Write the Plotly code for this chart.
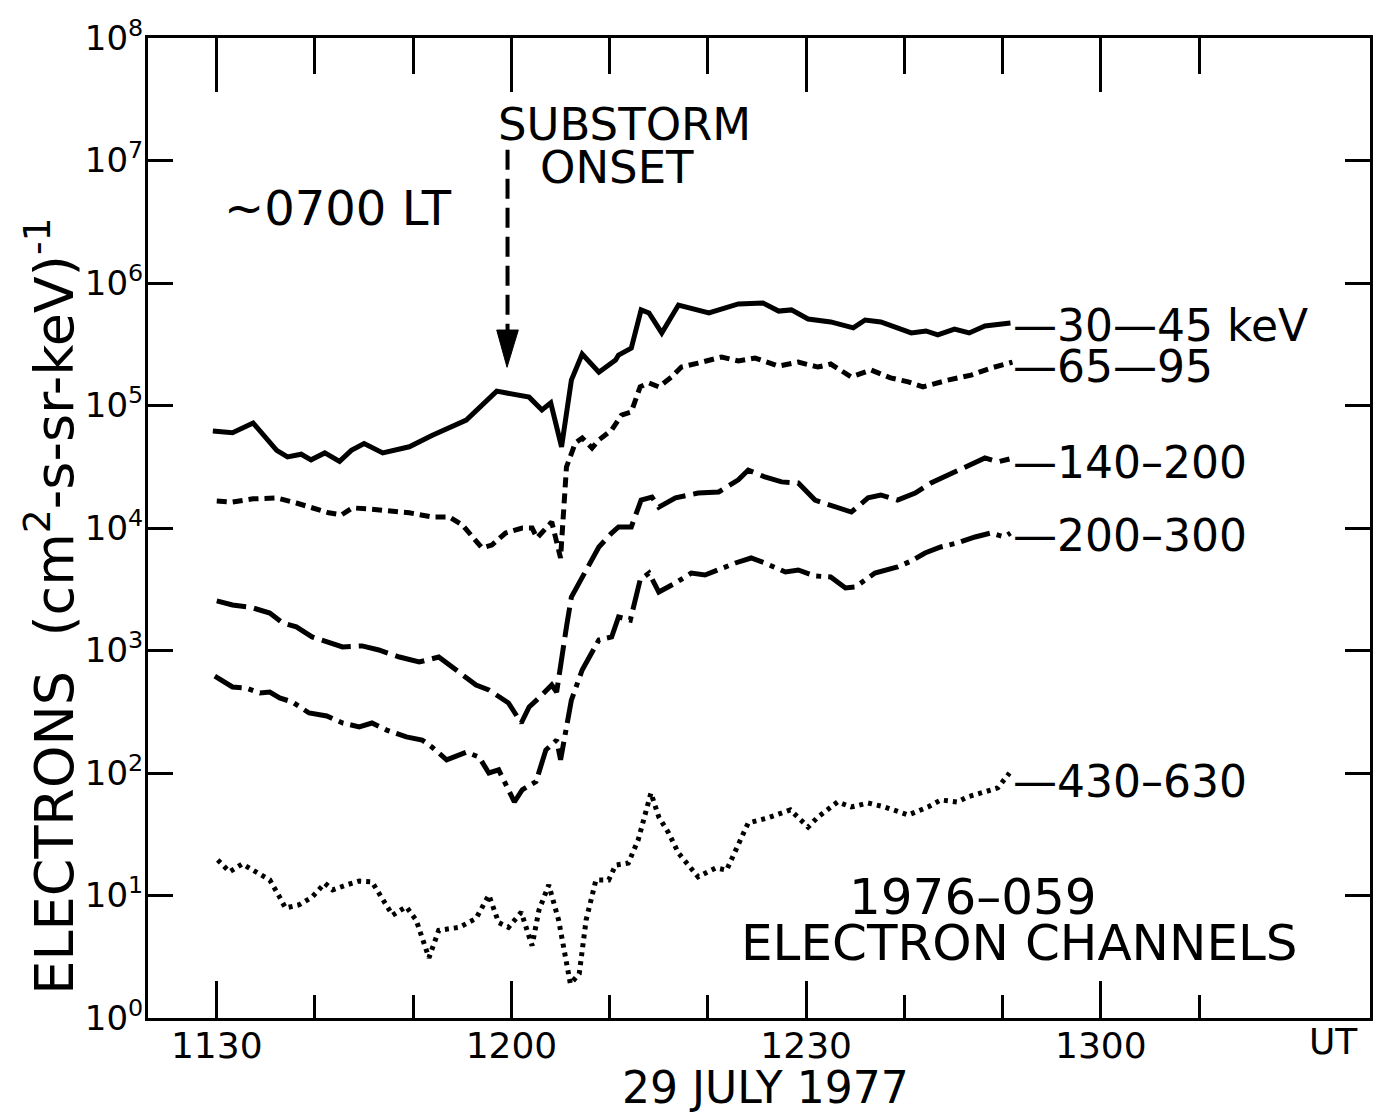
import plotly.graph_objects as go

# ---- data (time in minutes after 1100 UT, flux in electrons (cm2-s-sr-keV)^-1) ----
t30 = [29.6, 31.6, 33.7, 35.6, 36.1, 37.2, 38.6, 39.6, 41.0, 42.5, 43.7, 45.0, 46.9, 49.6, 51.9, 55.4,
       58.5, 61.8, 63.1, 64.0, 65.1, 66.1, 67.2, 68.9, 70.6, 70.9, 72.2, 73.2, 74.0, 75.3, 77.0, 80.1,
       83.1, 85.6, 87.2, 88.5, 90.2, 92.5, 94.8, 96.0, 97.6, 100.7, 102.2, 103.4, 105.1, 106.6, 108.2, 110.8]
f30 = [62000, 60000, 72000, 49000, 43000, 38000, 40000, 36000, 41000, 35000, 43000, 49000, 41000, 46000, 57000, 76000,
       131000, 117000, 92000, 105000, 46000, 161000, 263000, 187000, 235000, 258000, 294000, 603000, 569000, 391000, 661000, 569000,
       675000, 687000, 590000, 603000, 508000, 481000, 430000, 499000, 481000, 391000, 406000, 377000, 421000, 391000, 446000, 471000]

t65 = [30.0, 31.6, 33.7, 36.1, 38.1, 39.7, 41.4, 42.7, 43.8, 45.5, 47.3, 49.6, 51.9, 53.7, 55.0, 57.0, 58.0,
       59.4, 61.1, 62.1, 62.6, 63.5, 64.1, 65.0, 65.3, 65.6, 66.5, 67.2, 68.2, 68.9, 70.2, 71.2, 72.2, 73.1,
       74.0, 75.0, 76.3, 77.3, 79.0, 81.4, 83.1, 84.8, 87.2, 89.2, 91.2, 92.5, 94.6, 96.6, 98.6, 100.4, 101.9,
       104.4, 106.8, 108.8, 111.0]
f65 = [16600, 16300, 17300, 17600, 16000, 14600, 13300, 12800, 14600, 14300, 13800, 13300, 12300, 12300, 10600, 6870, 7260,
       9100, 10000, 10000, 8280, 10000, 11200, 5690, 13300, 31500, 49400, 54300, 45000, 52300, 63100, 83600, 88500, 142000,
       153000, 142000, 171000, 206000, 222000, 249000, 231000, 244000, 210000, 226000, 206000, 218000, 171000, 195000, 168000, 156000, 142000,
       161000, 177000, 202000, 226000]

t140 = [30.0, 31.6, 33.4, 35.4, 36.7, 38.1, 39.7, 41.2, 42.8, 44.8, 46.5, 48.6, 50.6, 52.6, 54.7, 56.4, 57.7,
        59.7, 61.0, 61.8, 62.8, 64.1, 64.6, 65.1, 65.6, 66.1, 67.6, 68.9, 70.2, 70.9, 72.2, 73.2, 74.3, 75.0,
        76.7, 79.0, 81.1, 83.1, 84.1, 85.8, 87.5, 89.2, 90.9, 92.5, 94.6, 96.3, 97.6, 99.3, 101.1, 102.7,
        104.4, 106.1, 108.2, 109.5, 110.7]
f140 = [2540, 2350, 2260, 2020, 1680, 1560, 1290, 1170, 1070, 1090, 1010, 885, 805, 885, 655, 523, 476,
        373, 256, 346, 410, 523, 458, 791, 1560, 2730, 4540, 7000, 9100, 10200, 10200, 16900, 17900, 14800,
        17600, 19300, 19700, 24700, 29700, 26100, 23800, 23300, 16900, 15400, 13500, 17600, 18600, 16900, 19300, 23300,
        27100, 31500, 37300, 34600, 36600]

t200 = [29.8, 31.6, 33.0, 34.4, 35.4, 36.4, 37.7, 39.4, 41.2, 42.8, 44.5, 45.8, 47.3, 49.3, 50.9, 51.9, 53.4,
        55.4, 56.7, 57.7, 58.7, 60.3, 61.1, 62.5, 63.5, 64.6, 65.0, 65.6, 66.1, 67.2, 68.9, 70.2, 70.9, 72.1,
        73.1, 74.0, 75.0, 76.7, 78.3, 79.7, 81.4, 82.8, 84.4, 85.8, 87.9, 89.2, 90.9, 92.5, 94.0, 95.0, 97.0,
        99.3, 100.7, 102.1, 103.7, 105.4, 107.2, 108.8, 110.2, 110.8]
f200 = [619, 504, 494, 450, 458, 410, 380, 309, 292, 256, 238, 256, 224, 197, 186, 163, 128,
        148, 135, 100, 106, 58, 73, 85, 154, 186, 128, 256, 394, 693, 1220, 1290, 1880, 1770,
        3770, 4290, 3000, 3560, 4290, 4130, 4710, 5180, 5690, 5180, 4370, 4540, 4060, 3980, 3240, 3300, 4290,
        4810, 5380, 6250, 7000, 7550, 8450, 9100, 8450, 9100]

t430 = [30.1, 31.3, 32.6, 34.1, 35.4, 36.4, 37.0, 38.4, 39.7, 41.0, 41.8, 43.2, 44.5, 45.8, 46.9, 47.9,
        49.3, 50.3, 51.6, 52.6, 54.7, 56.4, 57.7, 58.7, 59.7, 61.0, 61.8, 62.1, 62.8, 63.8, 64.8, 65.5,
        66.0, 66.9, 67.6, 68.6, 69.9, 70.6, 71.9, 72.9, 74.2, 75.0, 76.0, 77.0, 79.0, 80.8, 81.9, 84.1,
        86.1, 88.4, 90.2, 91.2, 93.2, 94.6, 96.3, 98.0, 100.4, 102.4, 103.7, 105.4, 106.4, 107.8, 109.5, 110.7]
f430 = [19.5, 15.6, 18.1, 15.6, 13.4, 9.7, 7.9, 8.4, 9.7, 12.6, 11.1, 12.2, 13.1, 12.9, 9.2, 6.9,
        8.1, 6.3, 3.1, 5.2, 5.5, 6.5, 10.1, 6.0, 5.5, 7.3, 4.6, 3.9, 7.6, 12.2, 6.3, 3.0,
        1.9, 2.3, 6.3, 13.4, 13.4, 17.7, 18.4, 28.4, 68.7, 43.7, 32.4, 22.2, 14.2, 16.8, 16.1, 39.1,
        43.0, 49.9, 36.2, 43.7, 58.0, 52.8, 56.9, 52.8, 45.4, 52.8, 60.2, 58.0, 63.7, 68.7, 75.5, 100]

channel_labels = ["\u201430\u201445 keV", "\u201465\u201495", "\u2014140\u2013200", "\u2014200\u2013300", "\u2014430\u2013630"]
x_tick_vals = [30, 60, 90, 120]
x_tick_text = ["1130", "1200", "1230", "1300"]
x_minor_vals = [40, 50, 70, 80, 100, 110, 130]
y_tick_vals = [1, 10, 100, 1e3, 1e4, 1e5, 1e6, 1e7, 1e8]
y_tick_text = ["10<sup>%d</sup>" % i for i in range(9)]

FONT = "DejaVu Sans"
LW = 5

series = [
    (t30, f30, "solid", "x2"),
    (t65, f65, "10px,6px", "x"),
    (t140, f140, "30px,8px", "x"),
    (t200, f200, "30px,7px,5px,7px", "x"),
    (t430, f430, "4px,5px", "x"),
]

fig = go.Figure()
for (tx, fy, dash, xa), name in zip(series, channel_labels):
    fig.add_trace(go.Scatter(x=tx, y=fy, mode="lines", xaxis=xa, yaxis="y",
                             line=dict(color="black", width=LW, dash=dash),
                             showlegend=False, hoverinfo="skip", name=name))

XR = [23.0, 147.4]
fig.update_layout(
    width=1377, height=1115,
    margin=dict(l=148, r=4, t=38, b=97),
    paper_bgcolor="white", plot_bgcolor="white",
    font=dict(family=FONT, color="black"),
    xaxis=dict(range=XR, showgrid=False, zeroline=False, showline=True, linewidth=3, linecolor="black",
               ticks="inside", ticklen=37, tickwidth=3, tickcolor="black",
               tickvals=x_tick_vals, ticktext=x_tick_text, tickfont=dict(size=36, family=FONT),
               ticklabelstandoff=-6,
               minor=dict(tickvals=x_minor_vals, ticks="inside", ticklen=23, tickwidth=3, tickcolor="black")),
    xaxis2=dict(range=XR, overlaying="x", side="top", anchor="y", showgrid=False, zeroline=False,
                showline=True, linewidth=3, linecolor="black",
                ticks="inside", ticklen=54, tickwidth=3, tickcolor="black",
                tickvals=x_tick_vals, showticklabels=False,
                minor=dict(tickvals=x_minor_vals, ticks="inside", ticklen=36, tickwidth=3, tickcolor="black")),
    yaxis=dict(type="log", range=[0, 8], showgrid=False, zeroline=False, showline=True, linewidth=3,
               linecolor="black", mirror="ticks", ticks="inside", ticklen=25, tickwidth=3, tickcolor="black",
               tickvals=y_tick_vals, ticktext=y_tick_text, tickfont=dict(size=34, family=FONT),
               ticklabelstandoff=-5),
)

ann = []
# channel labels at right end of each trace
label_y = [5.657, 5.322, 4.531, 3.935, 1.927]
for txt, ly in zip(channel_labels, label_y):
    ann.append(dict(x=110.9, y=ly, xref="x", yref="y", text=txt, showarrow=False,
                    xanchor="left", yanchor="middle", font=dict(size=44, family=FONT)))
ann += [
    dict(x=71.5, y=7.29, xref="x", yref="y", text="SUBSTORM", showarrow=False,
         xanchor="center", yanchor="middle", font=dict(size=45, family=FONT)),
    dict(x=70.7, y=6.94, xref="x", yref="y", text="ONSET", showarrow=False,
         xanchor="center", yanchor="middle", font=dict(size=45, family=FONT)),
    dict(x=42.3, y=6.612, xref="x", yref="y", text="~0700 LT", showarrow=False,
         xanchor="center", yanchor="middle", font=dict(size=48, family=FONT)),
    dict(x=107.0, y=0.988, xref="x", yref="y", text="1976\u2013059", showarrow=False,
         xanchor="center", yanchor="middle", font=dict(size=50, family=FONT)),
    dict(x=111.7, y=0.612, xref="x", yref="y", text="ELECTRON CHANNELS", showarrow=False,
         xanchor="center", yanchor="middle", font=dict(size=50, family=FONT)),
    dict(x=143.7, y=-0.0235, xref="x", yref="paper", text="UT", showarrow=False,
         xanchor="center", yanchor="middle", font=dict(size=36, family=FONT)),
    dict(x=0.505, y=-0.0705, xref="paper", yref="paper", text="29 JULY 1977", showarrow=False,
         xanchor="center", yanchor="middle", font=dict(size=44, family=FONT)),
    dict(x=-0.08, y=0.42, xref="paper", yref="paper", textangle=-90,
         text="ELECTRONS\u00a0 (cm<sup>2</sup>-s-sr-keV)<sup>-1</sup>", showarrow=False,
         xanchor="center", yanchor="middle", font=dict(size=54, family=FONT)),
]
fig.update_layout(annotations=ann)

# substorm onset arrow: dashed shaft + filled head
fig.add_shape(type="line", xref="x", yref="paper", x0=59.6, x1=59.6, y0=0.886, y1=0.700,
              line=dict(color="black", width=4, dash="20px,9px"))
fig.add_shape(type="path", xref="x", yref="paper",
              path="M 58.5,0.702 L 59.55,0.664 L 60.7,0.702 Z",
              fillcolor="black", line=dict(color="black", width=1))

fig.write_html("out.html")
